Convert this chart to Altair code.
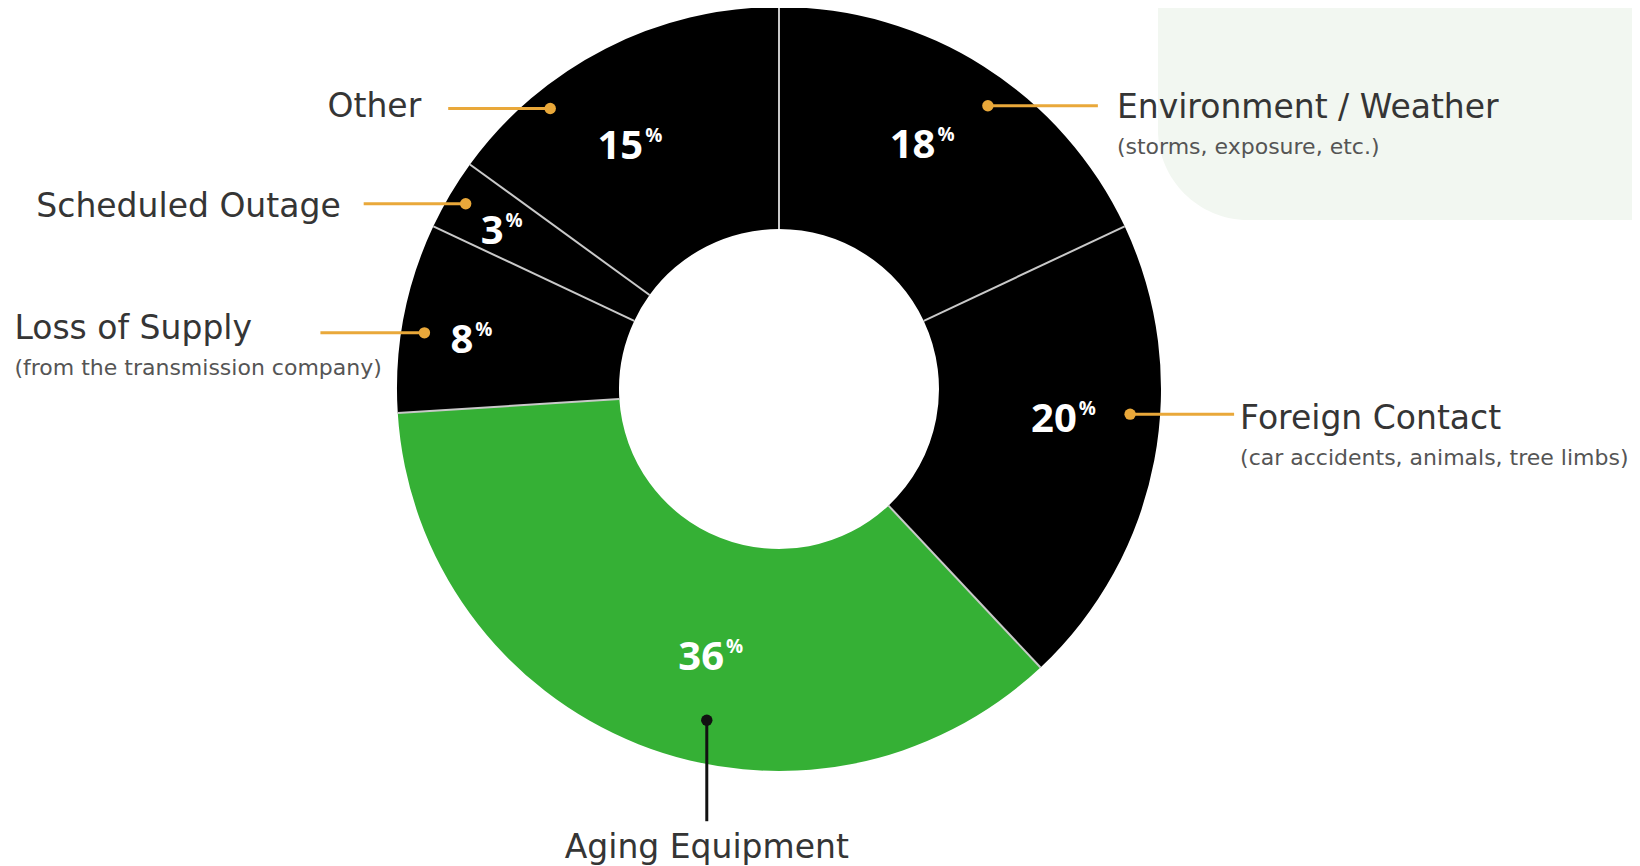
import math
import altair as alt
import pandas as pd

# ---------------- data ----------------
categories = ["Environment / Weather", "Foreign Contact", "Aging Equipment",
              "Loss of Supply", "Scheduled Outage", "Other"]
values = [18, 20, 36, 8, 3, 15]
sublabels = ["(storms, exposure, etc.)", "(car accidents, animals, tree limbs)", "",
             "(from the transmission company)", "", ""]
slice_colors = ["#000000", "#000000", "#35b035", "#000000", "#000000", "#000000"]
leader_colors = ["#e9a83a", "#e9a83a", "#111111", "#e9a83a", "#e9a83a", "#e9a83a"]

# ---------------- layout ----------------
W, H = 1624, 858
CX, CY = 771, 381
R_OUT, R_IN = 382, 160
NUM_FONT = "Open Sans"
LAB_FONT = "DejaVu Sans"

label_r = [292, 299, 271, 310, 319, 281]
label_nudge = [0, -5.6, -9.9, -1.2, -0.3, -1.9]
dot_r = [352, 352, 339, 359, 364, 362]
dot_nudge = [4.0, -6.7, -9.3, -1.8, 0.0, -12.2]
leader_dir = ["right", "right", "down", "left", "left", "left"]
leader_len = [110, 104, 101, 104, 102, 102]
label_dx = [129, 110, 0, -410, -125, -129]
label_dy = [2, 5, 128, -4, 3, -1]
label_align = ["left", "left", "center", "left", "right", "right"]
SUB_DY = 39

total = sum(values)
cum, s = [], 0
for v in values:
    cum.append(s)
    s += v
start_deg = [c / total * 360 for c in cum]
mid_deg = [(c + v / 2) / total * 360 for c, v in zip(cum, values)]


def polar(deg, r):
    a = math.radians(deg)
    return CX + r * math.sin(a), CY - r * math.cos(a)


# faint background tint (top-right)
deco_df = pd.DataFrame({"x": [1150], "x2": [1760], "y": [-120], "y2": [212],
                        "col": ["#f2f7f1"]})
deco = alt.Chart(deco_df).mark_rect(cornerRadius=90).encode(
    x=alt.X("x:Q", scale=None), x2="x2:Q", y=alt.Y("y:Q", scale=None), y2="y2:Q",
    color=alt.Color("col:N", scale=None))

# soft shadow behind ring
shadow_layers = []
for off, rr, op in [(2, R_OUT + 1, 0.05), (4, R_OUT + 3, 0.04),
                    (6, R_OUT + 5, 0.03), (8, R_OUT + 7, 0.02)]:
    shadow_layers.append(
        alt.Chart(pd.DataFrame({"v": [1]})).mark_arc(radius=rr, radius2=R_IN + 10,
                                                      color="#000000", opacity=op).encode(
            theta=alt.Theta("v:Q"), x=alt.value(CX + off), y=alt.value(CY + off + 2)))

# slices
pie_df = pd.DataFrame({"category": categories, "value": values,
                       "order": list(range(len(values)))})
arcs = alt.Chart(pie_df).mark_arc(radius=R_OUT, radius2=R_IN).encode(
    theta=alt.Theta("value:Q", stack=True),
    order=alt.Order("order:Q"),
    color=alt.Color("category:N", scale=alt.Scale(domain=categories, range=slice_colors),
                    legend=None),
    x=alt.value(CX), y=alt.value(CY),
)

# separators
sep_rows = []
for d in start_deg:
    x1, y1 = polar(d, R_IN)
    x2, y2 = polar(d, R_OUT)
    sep_rows.append({"x": x1, "y": y1, "x2": x2, "y2": y2})
seps = alt.Chart(pd.DataFrame(sep_rows)).mark_rule(color="#c9c9c9", strokeWidth=2).encode(
    x=alt.X("x:Q", scale=None), y=alt.Y("y:Q", scale=None),
    x2="x2:Q", y2="y2:Q")

# percent labels
num_rows = []
for i, c in enumerate(categories):
    x, y = polar(mid_deg[i] + label_nudge[i], label_r[i])
    num_rows.append({"x": x, "y": y, "num": str(values[i]), "pct": "%"})
num_df = pd.DataFrame(num_rows)
nums = alt.Chart(num_df).mark_text(font=NUM_FONT, fontWeight="bold", fontSize=40, color="white",
                                   align="right", baseline="middle", dy=4).encode(
    x=alt.X("x:Q", scale=None), y=alt.Y("y:Q", scale=None), text="num:N")
pcts = alt.Chart(num_df).mark_text(font=NUM_FONT, fontWeight="bold", fontSize=19, color="white",
                                   align="left", baseline="middle", dx=2, dy=-7).encode(
    x=alt.X("x:Q", scale=None), y=alt.Y("y:Q", scale=None), text="pct:N")

# leaders, dots, labels
lead_rows, lab_rows = [], []
for i, c in enumerate(categories):
    dx0, dy0 = polar(mid_deg[i] + dot_nudge[i], dot_r[i])
    if leader_dir[i] == "right":
        ex, ey = dx0 + leader_len[i], dy0
    elif leader_dir[i] == "left":
        ex, ey = dx0 - leader_len[i], dy0
    else:
        ex, ey = dx0, dy0 + leader_len[i]
    lead_rows.append({"x": dx0, "y": dy0, "x2": ex, "y2": ey, "col": leader_colors[i]})
    lx, ly = dx0 + label_dx[i], dy0 + label_dy[i]
    lab_rows.append({"x": lx, "y": ly, "ys": ly + SUB_DY, "label": c,
                     "sub": sublabels[i], "align": label_align[i]})
lead_df = pd.DataFrame(lead_rows)
lab_df = pd.DataFrame(lab_rows)

leaders = alt.Chart(lead_df).mark_rule(strokeWidth=3).encode(
    x=alt.X("x:Q", scale=None), y=alt.Y("y:Q", scale=None),
    x2="x2:Q", y2="y2:Q", color=alt.Color("col:N", scale=None))
dots = alt.Chart(lead_df).mark_circle(size=130, opacity=1).encode(
    x=alt.X("x:Q", scale=None), y=alt.Y("y:Q", scale=None),
    color=alt.Color("col:N", scale=None))

label_layers = []
for al in ["left", "right", "center"]:
    sub = lab_df[lab_df["align"] == al]
    label_layers.append(
        alt.Chart(sub).mark_text(font=LAB_FONT, fontSize=33, color="#353535", align=al,
                                 baseline="middle").encode(
            x=alt.X("x:Q", scale=None), y=alt.Y("y:Q", scale=None), text="label:N"))
    label_layers.append(
        alt.Chart(sub).mark_text(font=LAB_FONT, fontSize=22, color="#555555", align=al,
                                 baseline="middle").encode(
            x=alt.X("x:Q", scale=None), y=alt.Y("ys:Q", scale=None), text="sub:N"))

chart = alt.layer(deco, *shadow_layers, arcs, seps, nums, pcts, leaders, dots,
                  *label_layers).properties(
    width=W, height=H, autosize=alt.AutoSizeParams(type="none"), padding=0,
    background="white",
).configure_view(stroke=None)

chart.save("out.html", embed_options={"renderer": "svg", "actions": False})
